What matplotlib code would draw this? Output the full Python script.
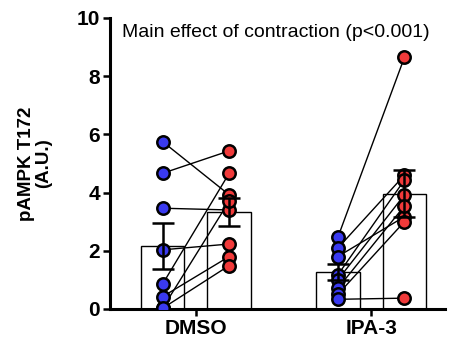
import numpy as np
import matplotlib
matplotlib.use("Agg")
import matplotlib.pyplot as plt

plt.rcParams['font.family'] = ['Liberation Sans', 'DejaVu Sans']

# data, paired per subject
groups = ["DMSO", "IPA-3"]
dmso_basal = [5.75, 4.66, 3.46, 2.03, 0.85, 0.02, 0.42, 0.02]
dmso_contr = [3.92, 5.43, 3.40, 2.23, 4.66, 3.70, 1.80, 1.49]
ipa_basal = [2.46, 2.09, 1.80, 1.17, 1.00, 0.71, 0.50, 0.33]
ipa_contr = [8.65, 4.60, 3.17, 4.43, 3.92, 3.54, 3.00, 0.37]

blue = "#3a3af0"
red = "#f03a3a"

fig = plt.figure(figsize=(4.6, 3.44), dpi=100)
ax = fig.add_axes([0.239, 0.102, 0.728, 0.846])

off = 0.19
w = 0.25
for i, (b, c) in enumerate([(dmso_basal, dmso_contr), (ipa_basal, ipa_contr)]):
    for vals, x, col in [(b, i - off, blue), (c, i + off, red)]:
        vals = np.array(vals)
        m = vals.mean()
        sem = vals.std(ddof=1) / np.sqrt(len(vals))
        ax.bar(x, m, width=w, color="white", edgecolor="black", linewidth=1.0, zorder=1)
        ax.scatter(np.full(len(vals), x), vals, s=80, color=col, edgecolor="black",
                   linewidth=1.8, zorder=3)
        ax.errorbar(x, m, yerr=sem, color="black", capsize=8, capthick=1.8,
                    elinewidth=1.8, zorder=4)
    for yb, yc in zip(b, c):
        ax.plot([i - off, i + off], [yb, yc], color="black", linewidth=1.0, zorder=2)

ax.set_xlim(-0.49, 1.42)
ax.set_ylim(0, 10)
ax.set_yticks([0, 2, 4, 6, 8, 10])
ax.set_xticks([0, 1])
ax.set_xticklabels(groups)
for s in ["top", "right"]:
    ax.spines[s].set_visible(False)
for s in ["left", "bottom"]:
    ax.spines[s].set_linewidth(2.2)
ax.tick_params(axis="both", width=1.8, length=5, labelsize=15, pad=2)
for lab in ax.get_xticklabels() + ax.get_yticklabels():
    lab.set_fontweight("bold")
ax.set_ylabel("pAMPK T172\n(A.U.)", fontsize=13.5, fontweight="bold", labelpad=18,
              linespacing=1.0)

ax.text(-0.419, 9.35, "Main effect of contraction (p<0.001)", fontsize=14, va="baseline")

fig.savefig("out.png", dpi=100)
